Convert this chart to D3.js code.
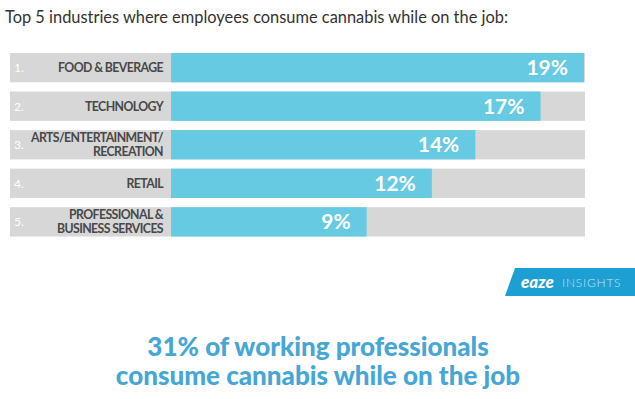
<!DOCTYPE html>
<html lang="en">
<head>
  <meta charset="UTF-8">
  <title>Top 5 industries where employees consume cannabis</title>
  <script src="https://d3js.org/d3.v7.min.js"></script>
  <style>
    body { margin: 0; background: #fff; }
    svg { display: block; }
  </style>
</head>
<body>
  <div id="chart"></div>
  <script>
    // data
    const ranks = ["1.", "2.", "3.", "4.", "5."];
    const industries = [
      ["FOOD & BEVERAGE"],
      ["TECHNOLOGY"],
      ["ARTS/ENTERTAINMENT/", "RECREATION"],
      ["RETAIL"],
      ["PROFESSIONAL &", "BUSINESS SERVICES"]
    ];
    const shares = [19, 17, 14, 12, 9];

    const width = 635, height = 399;
    const svg = d3.select("#chart").append("svg")
      .attr("width", width).attr("height", height);

    svg.append("text")
      .attr("x", 5).attr("y", 23)
      .attr("font-family", "Lato, sans-serif")
      .attr("font-size", "16.4px")
      .attr("fill", "#333")
      .text("Top 5 industries where employees consume cannabis while on the job:");

    const y = d3.scaleBand().domain(d3.range(shares.length))
      .range([53, 236.5]).paddingInner(0.24).paddingOuter(0);
    const x = d3.scaleLinear().domain([0, 19]).range([171, 584]);

    const rows = svg.selectAll(".row").data(shares).enter().append("g")
      .attr("class", "row")
      .attr("transform", (d, i) => `translate(0,${y(i)})`);

    // gray track
    rows.append("rect")
      .attr("x", 10).attr("width", 575)
      .attr("height", y.bandwidth())
      .attr("fill", "#d7d7d7");

    // value bar
    rows.append("rect")
      .attr("x", x(0)).attr("width", d => x(d) - x(0))
      .attr("height", y.bandwidth())
      .attr("fill", "#66cae2");

    rows.append("text")
      .attr("x", 14).attr("y", y.bandwidth() / 2 + 4.5)
      .attr("font-family", "Lato, sans-serif")
      .attr("font-size", "12px")
      .attr("fill", "#fff")
      .text((d, i) => ranks[i]);

    rows.each(function(d, i) {
      const lines = industries[i];
      const g = d3.select(this);
      const lh = 14;
      const y0 = y.bandwidth() / 2 - (lines.length - 1) * lh / 2 + 4.5;
      lines.forEach((s, k) => {
        g.append("text")
          .attr("x", 163).attr("y", y0 + k * lh)
          .attr("text-anchor", "end")
          .attr("font-family", "Lato, sans-serif")
          .attr("font-weight", "bold")
          .attr("font-size", "12.3px")
          .attr("letter-spacing", "-0.6px")
          .attr("fill", "#484848")
          .text(s);
      });
    });

    rows.append("text")
      .attr("x", d => x(d) - 16).attr("y", y.bandwidth() / 2 + 7.5)
      .attr("text-anchor", "end")
      .attr("font-family", "Lato, sans-serif")
      .attr("font-weight", "bold")
      .attr("font-size", "21px")
      .attr("fill", "#fff")
      .text(d => d + "%");

    // eaze insights badge
    const badge = svg.append("g");
    badge.append("path")
      .attr("d", "M515,268 L635,268 L635,296 L505,296 Z")
      .attr("fill", "#1e9fd3");
    badge.append("text")
      .attr("x", 521).attr("y", 288)
      .attr("font-family", "Lato, sans-serif")
      .attr("font-weight", "900")
      .attr("font-style", "italic")
      .attr("font-size", "17px")
      .attr("fill", "#fff")
      .text("eaze");
    badge.append("text")
      .attr("x", 562).attr("y", 287)
      .attr("font-family", "Lato, sans-serif")
      .attr("font-weight", "300")
      .attr("font-size", "12px")
      .attr("letter-spacing", "0.8px")
      .attr("fill", "#bfe6f5")
      .text("INSIGHTS");

    // headline
    const headline = ["31% of working professionals", "consume cannabis while on the job"];
    svg.selectAll(".headline").data(headline).enter().append("text")
      .attr("class", "headline")
      .attr("x", 318).attr("y", (d, i) => 356 + i * 29)
      .attr("text-anchor", "middle")
      .attr("font-family", "Lato, sans-serif")
      .attr("font-weight", "900")
      .attr("font-size", "26px")
      .attr("fill", "#46a6d6")
      .text(d => d);
  </script>
</body>
</html>
